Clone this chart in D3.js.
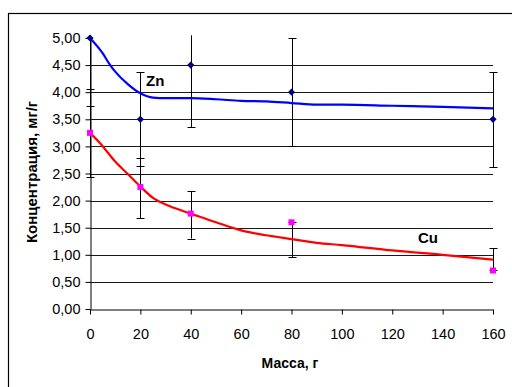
<!DOCTYPE html>
<html>
<head>
<meta charset="utf-8">
<script src="https://cdn.jsdelivr.net/npm/d3@7"></script>
<style>
  body { margin: 0; background: #fff; }
  svg { display: block; font-family: Arial, "Liberation Sans", sans-serif; }
</style>
</head>
<body>
<div id="chart"></div>
<script>
// measured points
const massX = [0, 20, 40, 80, 160];
const znVals = [5.0, 3.5, 4.5, 4.0, 3.5];
const znErrLow = [3.75, 2.63, 3.35, 3.0, 2.62];
const znErrHigh = [6.25, 4.37, 5.65, 5.0, 4.37];
const cuVals = [3.25, 2.25, 1.76, 1.6, 0.71];
const cuErrLow = [2.44, 1.68, 1.3, 0.96, 0.72];
const cuErrHigh = [4.06, 2.78, 2.17, 1.61, 1.12];

// smoothed trend curves
const znCurveX = [0, 5, 8, 10, 15, 20, 25, 30, 40, 50, 60, 70, 80, 90, 100, 120, 140, 160];
const znCurveY = [5.0, 4.72, 4.5, 4.38, 4.15, 3.98, 3.9, 3.89, 3.89, 3.87, 3.84, 3.83, 3.8, 3.77, 3.77, 3.75, 3.73, 3.7];
const cuCurveX = [0, 4, 10, 15, 20, 25, 30, 35, 40, 50, 60, 70, 80, 90, 100, 120, 140, 160];
const cuCurveY = [3.25, 3.06, 2.72, 2.49, 2.26, 2.05, 1.93, 1.84, 1.76, 1.6, 1.45, 1.36, 1.29, 1.22, 1.18, 1.08, 1.0, 0.91];

const xTicks = [0, 20, 40, 60, 80, 100, 120, 140, 160];
const yTicks = [0, 0.5, 1, 1.5, 2, 2.5, 3, 3.5, 4, 4.5, 5];

const w = 512;
const h = 387;

const x = d3.scaleLinear().domain([0, 160]).range([90, 493]);
const y = d3.scaleLinear().domain([0, 5]).range([309, 38]);

const svg = d3.select("#chart")
    .append("svg")
    .attr("width", w)
    .attr("height", h);

// outer chart frame (runs off the picture on right and bottom)
svg.append("rect")
    .attr("x", 8.5)
    .attr("y", 13.5)
    .attr("width", 560)
    .attr("height", 420)
    .attr("fill", "none")
    .attr("stroke", "#000")
    .attr("stroke-width", 1.2);

svg.append("defs").append("clipPath")
    .attr("id", "plot")
    .append("rect")
    .attr("x", 80)
    .attr("y", y(5.05))
    .attr("width", 430)
    .attr("height", y(0) - y(5.05) + 20);

// gridlines
svg.append("g")
    .selectAll("line")
    .data(yTicks.filter(d => d > 0 && d < 5))
    .enter()
    .append("line")
    .attr("x1", x(0))
    .attr("x2", x(160))
    .attr("y1", d => Math.round(y(d)) + 0.5)
    .attr("y2", d => Math.round(y(d)) + 0.5)
    .attr("stroke", "#1a1a1a")
    .attr("stroke-width", 1);

// axes
const xAxis = d3.axisBottom(x).tickValues(xTicks).tickSize(5).tickSizeOuter(0).tickPadding(14)
    .tickFormat(d3.format("d"));
const yAxis = d3.axisLeft(y).tickValues(yTicks).tickSize(5).tickSizeOuter(0).tickPadding(5)
    .tickFormat(d => d.toFixed(2).replace(".", ","));

const gx = svg.append("g")
    .attr("transform", `translate(0, ${Math.round(y(0)) + 0.5})`)
    .call(xAxis);
const gy = svg.append("g")
    .attr("transform", `translate(${Math.round(x(0)) + 0.5}, 0)`)
    .call(yAxis);

[gx, gy].forEach(g => {
    g.select(".domain").attr("stroke", "#000");
    g.selectAll(".tick line").attr("stroke", "#000");
    g.selectAll("text")
        .attr("fill", "#000")
        .attr("font-size", 14.5)
        .attr("font-family", "Arial, 'Liberation Sans', sans-serif");
});

// error bars
const drawErr = (lo, hi) => {
    const g = svg.append("g").attr("clip-path", "url(#plot)");
    massX.forEach((m, i) => {
        const cx = Math.round(x(m)) + 0.5;
        g.append("line")
            .attr("x1", cx).attr("x2", cx)
            .attr("y1", y(lo[i])).attr("y2", y(hi[i]))
            .attr("stroke", "#000");
        [lo[i], hi[i]].forEach(v => {
            g.append("line")
                .attr("x1", cx - 4).attr("x2", cx + 4)
                .attr("y1", Math.round(y(v)) + 0.5).attr("y2", Math.round(y(v)) + 0.5)
                .attr("stroke", "#000");
        });
    });
};
drawErr(znErrLow, znErrHigh);
drawErr(cuErrLow, cuErrHigh);

// curves
const line = d3.line()
    .x(d => x(d[0]))
    .y(d => y(d[1]))
    .curve(d3.curveMonotoneX);

svg.append("path")
    .datum(znCurveX.map((v, i) => [v, znCurveY[i]]))
    .attr("d", line)
    .attr("fill", "none")
    .attr("stroke", "#0000FF")
    .attr("stroke-width", 2.2);

svg.append("path")
    .datum(cuCurveX.map((v, i) => [v, cuCurveY[i]]))
    .attr("d", line)
    .attr("fill", "none")
    .attr("stroke", "#FF0000")
    .attr("stroke-width", 2.2);

// markers
svg.append("g")
    .selectAll("path")
    .data(massX)
    .enter()
    .append("path")
    .attr("d", d3.symbol(d3.symbolSquare, 26))
    .attr("transform", (d, i) => `translate(${x(d)}, ${y(znVals[i])}) rotate(45)`)
    .attr("fill", "#000080");

svg.append("g")
    .selectAll("rect")
    .data(massX)
    .enter()
    .append("rect")
    .attr("x", d => x(d) - 3)
    .attr("y", (d, i) => y(cuVals[i]) - 3)
    .attr("width", 6)
    .attr("height", 6)
    .attr("fill", "#FF00FF");

// series labels
svg.append("text")
    .text("Zn")
    .attr("x", 146)
    .attr("y", 86)
    .attr("font-size", 15)
    .attr("font-weight", "bold");

svg.append("text")
    .text("Cu")
    .attr("x", 418)
    .attr("y", 243)
    .attr("font-size", 15)
    .attr("font-weight", "bold");

// axis titles
svg.append("text")
    .text("Масса, г")
    .attr("x", 290)
    .attr("y", 368)
    .attr("text-anchor", "middle")
    .attr("font-size", 14)
    .attr("font-weight", "bold");

svg.append("text")
    .text("Концентрация, мг/г")
    .attr("transform", "translate(37, 172) rotate(-90)")
    .attr("text-anchor", "middle")
    .attr("font-size", 15)
    .attr("font-weight", "bold");
</script>
</body>
</html>
